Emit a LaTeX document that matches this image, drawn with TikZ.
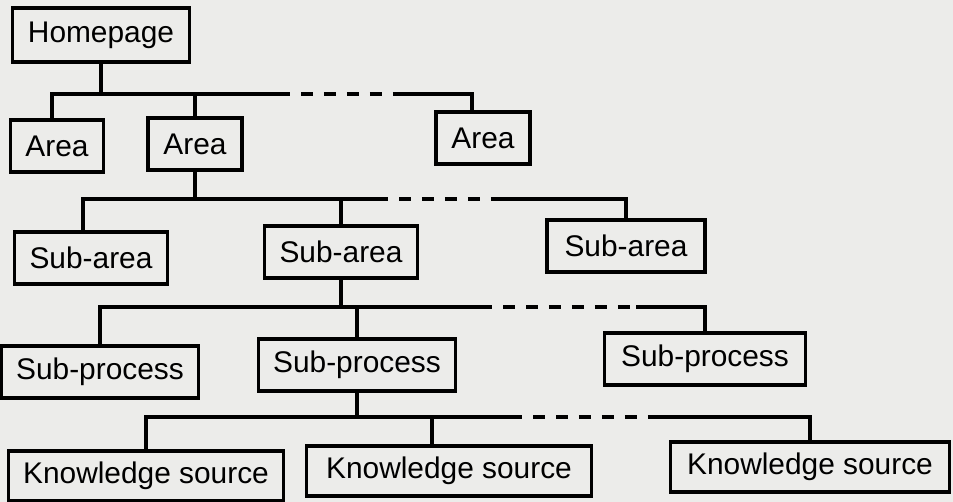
\documentclass[tikz,border=0pt]{standalone}
\usepackage{fontspec}
\setmainfont{Liberation Sans}
\usetikzlibrary{positioning}
\definecolor{paper}{RGB}{236,236,234}

\begin{document}
\begin{tikzpicture}[x=0.02cm, y=-0.02cm,
        page/.style={rectangle, draw=black, line width=1.8pt, minimum height=1.04cm, inner xsep=0.3cm, font=\fontsize{17}{20}\selectfont},
        link/.style={line width=1.8pt},
        gap/.style={line width=1.8pt, dash pattern=on 0.24cm off 0.22cm, dash phase=0.24cm},
    ]
    \fill[paper] (0,0) rectangle (953,502);
    \useasboundingbox (0,0) rectangle (953,502);

    % levels of the site
    \node[page, minimum width=3.54cm, minimum height=1.08cm] (home) at (101,35) {Homepage};

    \node[page, minimum width=1.82cm] (area1) at (57,146) {Area};
    \node[page, minimum width=1.88cm] (area2) at (195,144) {Area};
    \node[page, minimum width=1.88cm] (area3) at (483,138) {Area};

    \node[page, minimum width=3.02cm] (sub1) at (91,258) {Sub-area};
    \node[page, minimum width=3.06cm] (sub2) at (341,252) {Sub-area};
    \node[page, minimum width=3.16cm] (sub3) at (626,246) {Sub-area};

    \node[page, minimum width=3.60cm] (proc1) at (100,372) {Sub-process};
    \node[page, minimum width=3.76cm] (proc2) at (357,365) {Sub-process};
    \node[page, minimum width=4.02cm] (proc3) at (705,359) {Sub-process};

    \node[page, minimum width=5.48cm, minimum height=1.0cm] (ks1) at (146,476) {Knowledge source};
    \node[page, minimum width=5.70cm, minimum height=1.0cm] (ks2) at (449,471) {Knowledge source};
    \node[page, minimum width=5.58cm, minimum height=1.0cm] (ks3) at (810,467) {Knowledge source};

    % ends of the dashed parts
    \coordinate (d1a) at (290,94);  \coordinate (d1b) at (397,94);
    \coordinate (d2a) at (388,199); \coordinate (d2b) at (494,199);
    \coordinate (d3a) at (492,307); \coordinate (d3b) at (636,307);
    \coordinate (d4a) at (522,417); \coordinate (d4b) at (648,417);

    \draw[link] (home) -- (home |- d1a);
    \draw[link] ([xshift=-0.1cm]area1.north) |- (d1a);
    \draw[link] (area2) -- (area2 |- d1a);
    \draw[gap] (d1a) -- (d1b);
    \draw[link] (d1b) -| ([xshift=-0.22cm]area3.north);

    \draw[link] (area2) -- (area2 |- d2a);
    \draw[link] ([xshift=-0.16cm]sub1.north) |- (d2a);
    \draw[link] (sub2) -- (sub2 |- d2a);
    \draw[gap] (d2a) -- (d2b);
    \draw[link] (d2b) -| (sub3.north);

    \draw[link] (sub2) -- (sub2 |- d3a);
    \draw[link] (proc1) |- (d3a);
    \draw[link] (proc2) -- (proc2 |- d3a);
    \draw[gap] (d3a) -- (d3b);
    \draw[link] (d3b) -| (proc3.north);

    \draw[link] (proc2) -- (proc2 |- d4a);
    \draw[link] (ks1) |- (d4a);
    \draw[link] ([xshift=-0.34cm]ks2.north) -- ([xshift=-0.34cm]ks2.north |- d4a);
    \draw[gap] (d4a) -- (d4b);
    \draw[link] (d4b) -| (ks3.north);
\end{tikzpicture}
\end{document}
